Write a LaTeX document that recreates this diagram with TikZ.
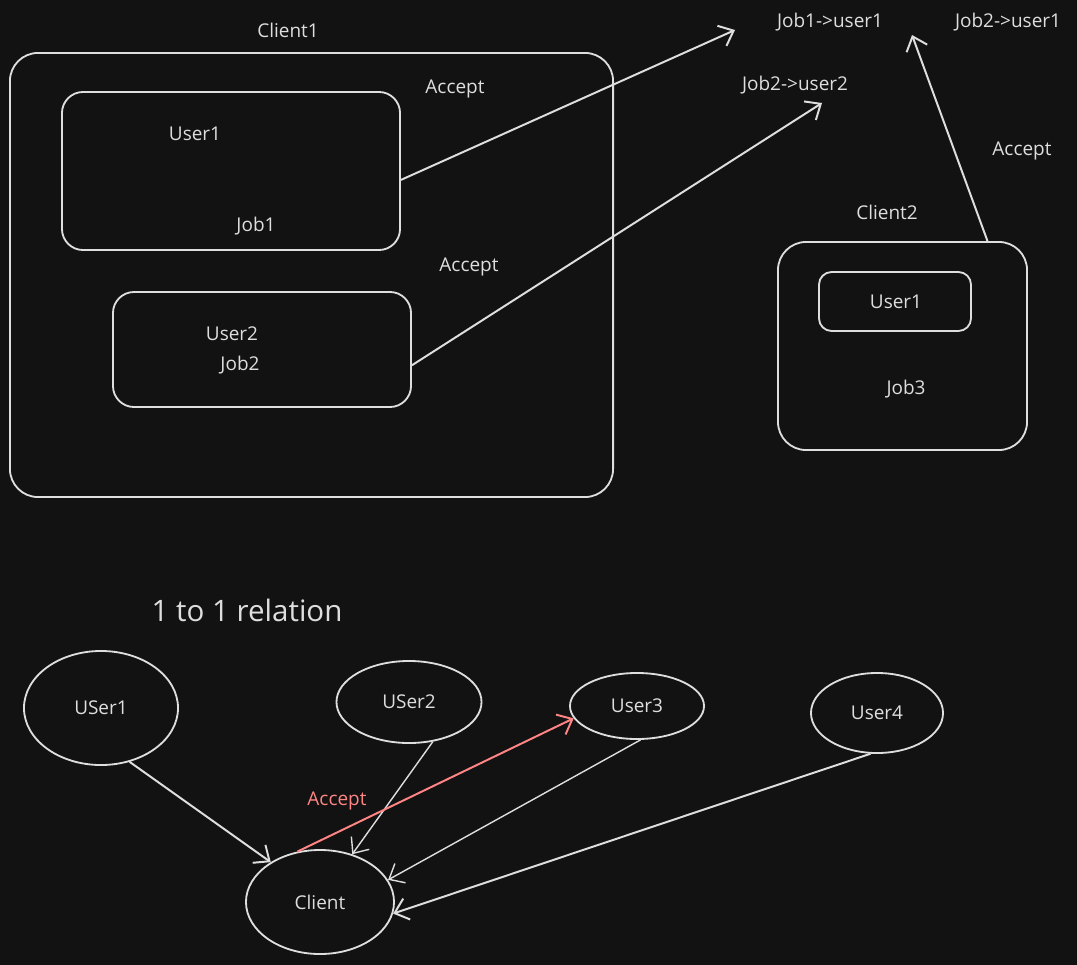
\documentclass[tikz,border=0pt]{standalone}
\usepackage{fontspec}
\setmainfont{Open Sans}
\usetikzlibrary{arrows.meta,shapes.geometric}
\definecolor{bg}{HTML}{121212}
\definecolor{ink}{HTML}{DEDEDE}
\definecolor{hint}{HTML}{FF8585}

\begin{document}
\begin{tikzpicture}[x=0.025cm, y=-0.025cm, font=\fontsize{13.5}{16}\selectfont, text=ink,
 >={Straight Barb[length=3.2mm,width=5.5mm]},
 box/.style={draw=ink, line width=1.3pt, inner sep=0pt},
 bubble/.style={draw=ink, ellipse, line width=1.3pt, inner sep=0pt, align=center},
 lbl/.style={inner sep=1pt},
 edge/.style={->, draw=ink, line width=1.4pt},
 thin/.style={->, draw=ink, line width=1pt}]
\fill[bg] (0,0) rectangle (1077,965);
\useasboundingbox (0,0) rectangle (1077,965);
% upper part: clients holding users and jobs
\node[lbl] (c1title) at (288,30) {Client1};
\node[box, minimum width=15.075cm, minimum height=11.1cm, rounded corners=20pt] (c1) at (311.5,275) {};
\node[box, minimum width=8.45cm, minimum height=3.95cm, rounded corners=15pt] (b1) at (231,171) {};
\node[lbl] (b1user) at (195,134) {User1};
\node[lbl] (b1job) at (256,226) {Job1};
\node[box, minimum width=7.45cm, minimum height=2.875cm, rounded corners=15pt] (b2) at (262,349.5) {};
\node[lbl] (b2user) at (232,334) {User2};
\node[lbl] (b2job) at (240,365) {Job2};
\node[lbl] (acc1) at (455,89) {Accept};
\node[lbl] (acc2) at (469,267) {Accept};
\node[lbl] (j1u1) at (830,22) {Job1->user1};
\node[lbl] (j2u1) at (1008,22) {Job2->user1};
\node[lbl] (j2u2) at (795,85) {Job2->user2};
\node[lbl] (c2title) at (887,212) {Client2};
\node[box, minimum width=6.225cm, minimum height=5.2cm, rounded corners=20pt] (c2) at (902.5,346) {};
\node[box, minimum width=3.8cm, minimum height=1.475cm, rounded corners=9pt] (c2box) at (895,301.5) {};
\node[lbl] (c2user) at (896,302) {User1};
\node[lbl] (c2job) at (906,389) {Job3};
\node[lbl] (acc3) at (1022,151) {Accept};
\coordinate (t1) at (735,30);
\coordinate (t2) at (822,103);
\coordinate (t3) at (912,35);
\draw[edge] (b1.-3) -- (t1);
\draw[edge] (b2.-6) -- (t2);
\draw[edge] (c2.51) -- (t3);
% lower part: one to one relation
\node[lbl, font=\fontsize{21}{25}\selectfont] (rel) at (247,610) {1 to 1 relation};
\node[bubble, minimum width=3.85cm, minimum height=2.85cm] (u1) at (101,708) {USer1};
\node[bubble, minimum width=3.625cm, minimum height=2.05cm] (u2) at (409,702) {USer2};
\node[bubble, minimum width=3.35cm, minimum height=1.65cm] (u3) at (637,706) {User3};
\node[bubble, minimum width=3.3cm, minimum height=2cm] (u4) at (877,713) {User4};
\node[bubble, minimum width=3.7cm, minimum height=2.6cm] (cl) at (320,902) {Client};
\node[lbl, text=hint] (acc4) at (337,801) {Accept};
\draw[edge] (u1.-62) -- (cl.141);
\draw[thin] (u2.-59) -- (cl.56);
\draw[thin] (u3.-84) -- (cl.18);
\draw[edge] (u4.-99) -- (cl.-9);
\draw[edge, draw=hint] (cl.114) -- (u3.-169);
\end{tikzpicture}
\end{document}
